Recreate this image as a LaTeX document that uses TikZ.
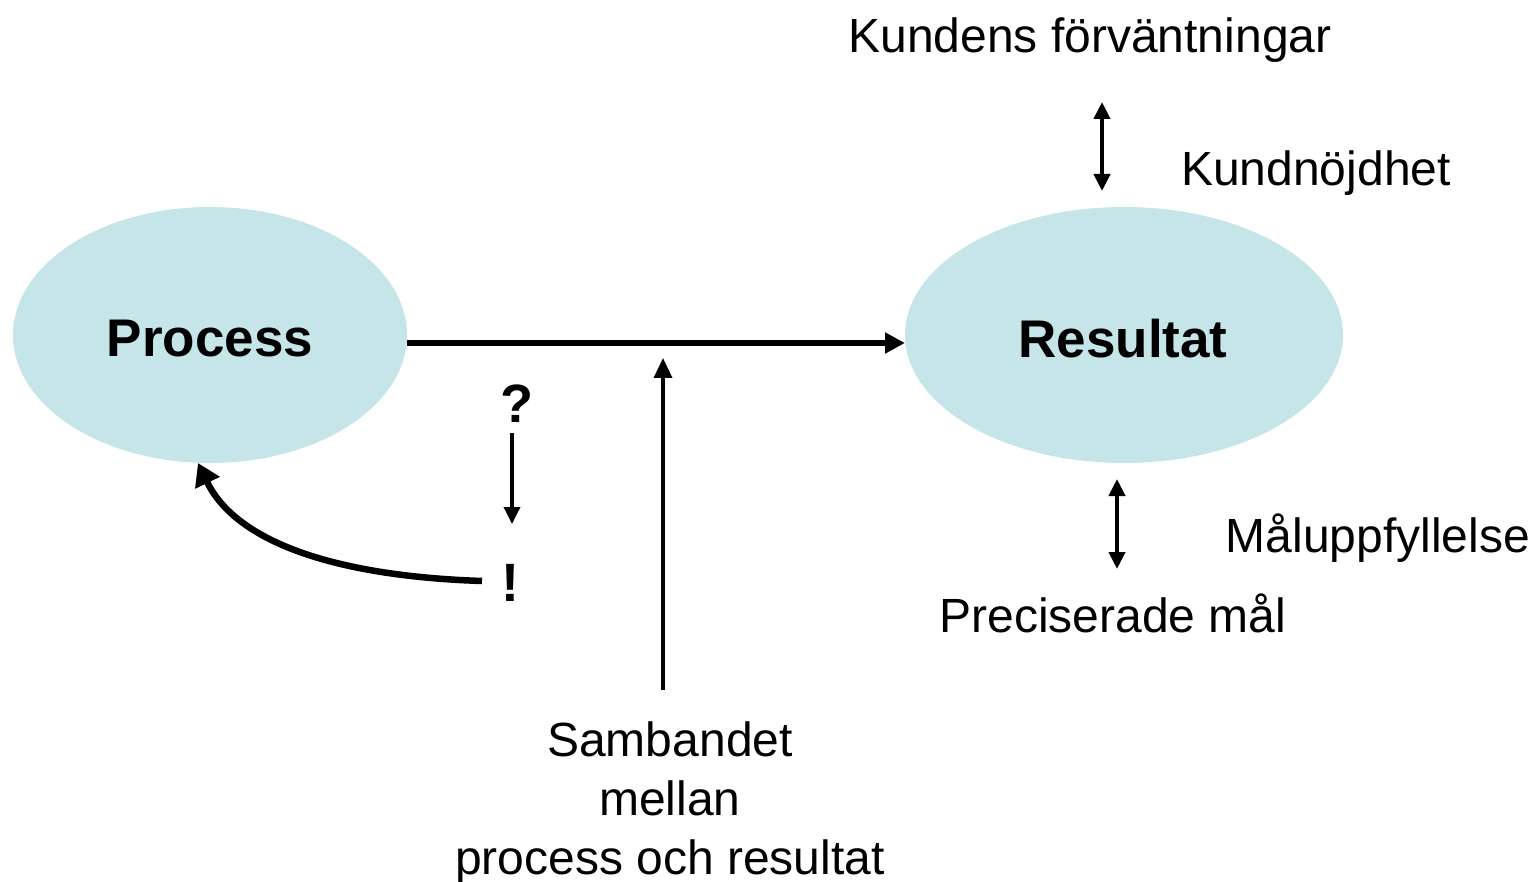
\documentclass[tikz,border=0pt]{standalone}
\usepackage{fontspec}
\setmainfont{Liberation Sans}
\usetikzlibrary{arrows.meta}
\begin{document}
\begin{tikzpicture}[x=1pt,y=-1pt,
  lbl/.style={font=\fontsize{48}{58}\selectfont,inner sep=0pt},
  blbl/.style={font=\fontsize{53}{63}\selectfont\bfseries,inner sep=0pt},
  mlbl/.style={font=\fontsize{54}{64}\selectfont\bfseries,inner sep=0pt},
  tip/.style={-{Triangle[length=20pt,width=20pt]}},
  dtip/.style={{Triangle[length=17pt,width=16pt]}-{Triangle[length=17pt,width=16pt]}},
]
\definecolor{ellfill}{HTML}{C5E5E8}
\useasboundingbox (0,0) rectangle (1537,882);
\fill[ellfill] (210,335) ellipse [x radius=197, y radius=128];
\fill[ellfill] (1124,335) ellipse [x radius=219, y radius=128];
\node[blbl] (proc) at (210,339) {Process};
\node[blbl] (res) at (1123,339) {Resultat};
\coordinate (pE) at (407,343);
\coordinate (rW) at (905,343);
\draw[line width=6.5pt,tip] (pE) -- (rW);
\node[lbl,align=center] (samb) at (670,803) {Sambandet\\[1pt]mellan\\[1pt]process och resultat};
\coordinate (sUp) at (663,690);
\coordinate (sTop) at (663,358);
\draw[line width=3.5pt,-{Triangle[length=20pt,width=18pt]}] (sUp) -- (sTop);
\node[mlbl] (q) at (517,404) {?};
\node[mlbl] (ex) at (510,583) {!};
\coordinate (qa) at (512,433);
\coordinate (qb) at (512,524);
\draw[line width=3.5pt,-{Triangle[length=17pt,width=16pt]}] (qa) -- (qb);
\coordinate (exW) at (482,581);
\coordinate (pS) at (198,463);
\draw[line width=6.5pt,-{Triangle[length=22pt,width=26pt]}] (exW) .. controls (330,576) and (235,540) .. (pS);
\node[lbl] (kf) at (1090,40) {Kundens förväntningar};
\node[lbl] (kn) at (1316,173) {Kundnöjdhet};
\node[lbl] (ma) at (1378,538) {Måluppfyllelse};
\node[lbl] (pm) at (1113,613) {Preciserade mål};
\coordinate (d1a) at (1102,102);
\coordinate (d1b) at (1102,191);
\draw[line width=4pt,dtip] (d1a) -- (d1b);
\coordinate (d2a) at (1117,479);
\coordinate (d2b) at (1117,569);
\draw[line width=4pt,dtip] (d2a) -- (d2b);
\end{tikzpicture}
\end{document}
